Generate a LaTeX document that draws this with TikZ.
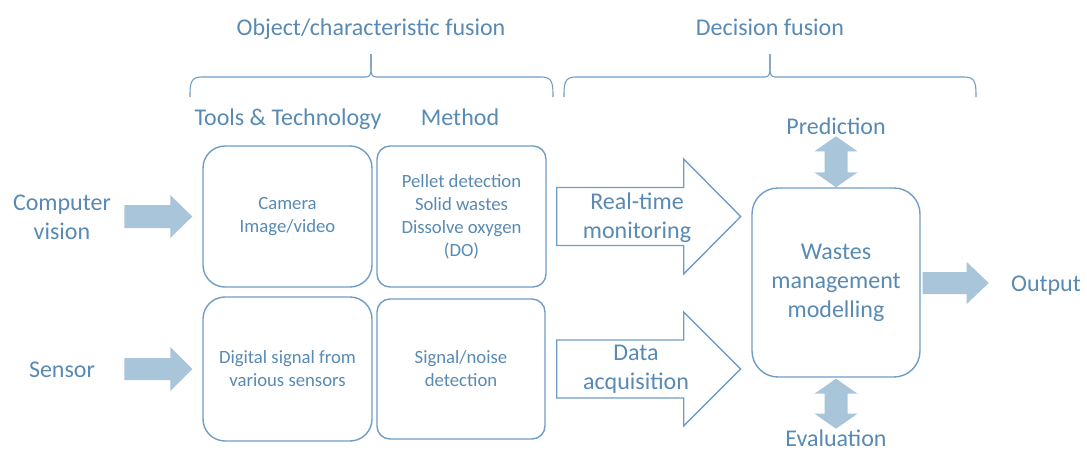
\documentclass[tikz,border=0pt]{standalone}
\usepackage{fontspec}
\setmainfont{Carlito}
\usetikzlibrary{calc}

\definecolor{ink}{RGB}{88,138,180}
\definecolor{edge}{RGB}{112,157,197}
\definecolor{fatfill}{RGB}{169,197,218}

% block arrow: style, start point, direction, length, shaft half-width, head half-width, head length
\newcommand{\blockarrow}[7]{%
  \path[#1, shift={#2}, rotate=#3]
    (0,-#5) -- ({#4-#7},-#5) -- ({#4-#7},-#6) -- (#4,0) --
    ({#4-#7},#6) -- ({#4-#7},#5) -- (0,#5) -- cycle;}
% double-headed block arrow, same arguments
\newcommand{\twinarrow}[7]{%
  \path[#1, shift={#2}, rotate=#3]
    (0,0) -- (#7,-#6) -- (#7,-#5) -- ({#4-#7},-#5) -- ({#4-#7},-#6) --
    (#4,0) -- ({#4-#7},#6) -- ({#4-#7},#5) -- (#7,#5) -- (#7,#6) -- cycle;}
% curly brace over a group: left x, tip x, right x
\newcommand{\groupbrace}[3]{%
  \draw[bracepen] (#1,97) .. controls (#1,85) and (#1,77) .. ({#1+11},77)
    -- ({#2-5},77) .. controls ({#2-1},77) and (#2,74) .. (#2,68) -- (#2,54);
  \draw[bracepen] (#2,54) -- (#2,68) .. controls (#2,74) and ({#2+1},77) .. ({#2+5},77)
    -- ({#3-11},77) .. controls (#3,77) and (#3,85) .. (#3,97);}

\begin{document}
\begin{tikzpicture}[x=1pt, y=-1pt,
  every node/.style={text=ink, inner sep=0pt},
  bigtxt/.style={font=\fontsize{24}{29}\selectfont, align=center},
  label/.style={font=\fontsize{24}{29}\selectfont, anchor=base},
  smalltxt/.style={font=\fontsize{18.7}{23}\selectfont, align=center},
  card/.style={draw=edge, line width=1.4pt, smalltxt, minimum width=169pt},
  fat/.style={fill=fatfill},
  hollow/.style={draw=edge, line width=1.4pt, fill=white, line join=miter},
  bracepen/.style={draw=edge, line width=1.1pt}]

\useasboundingbox (0,0) rectangle (1087,451);
\fill[white] (0,0) rectangle (1087,451);

% group headings
\node[label] (objfusion) at (371,35) {Object/characteristic fusion};
\node[label] (decfusion) at (770,35) {Decision fusion};
\groupbrace{190}{371}{553}
\groupbrace{564}{770}{976}

% column headings
\node[label] (tools)  at (288,125) {Tools \& Technology};
\node[label] (method) at (460,125) {Method};

% inputs
\node[bigtxt] (cv)     at (62,217.5) {Computer\\vision};
\node[label] (sensor) at (62,377) {Sensor};

% tools and methods
\node[card, minimum height=141pt, rounded corners=22pt] (tt1) at (287.5,216.5) {Camera\\Image/video};
\node[card, minimum height=141pt, rounded corners=13pt] (m1)  at (461.5,216.5) {Pellet detection\\Solid wastes\\Dissolve oxygen\\(DO)};
\node[card, minimum height=144pt, rounded corners=22pt] (tt2) at (287.5,369) {Digital signal from\\various sensors};
\node[card, minimum height=140pt, minimum width=168pt, rounded corners=13pt] (m2) at (461,369) {Signal/noise\\detection};

% model
\node[draw=edge, line width=1.4pt, bigtxt, minimum width=168pt, minimum height=189pt, rounded corners=26pt] (wm) at (836,282.5) {Wastes\\management\\modelling};

% input arrows
\blockarrow{fat}{($(tt1.west)+(-78,0)$)}{0}{68}{11.5}{21.5}{22}
\blockarrow{fat}{($(tt2.west)+(-78,0)$)}{0}{68}{11}{22}{22}

% hollow arrows into the model
\blockarrow{hollow}{($(m1.east)+(10,0)$)}{0}{184}{29}{57.5}{57}
\blockarrow{hollow}{($(m2.east)+(11,0)$)}{0}{184}{29}{57}{57}
\node[bigtxt] (rtm) at (637,217.5) {Real-time\\monitoring};
\node[bigtxt] (daq) at (636,369.5) {Data\\acquisition};

% prediction / evaluation / output
\node[label] (pred) at (836,134) {Prediction};
\node[label] (eval) at (836,446) {Evaluation};
\node[label] (out)  at (1046,291) {Output};
\twinarrow{fat}{($(wm.north)+(0,0)$)}{90}{51}{11.5}{21.5}{15}
\twinarrow{fat}{($(wm.south)+(0,1)$)}{-90}{50}{11.5}{21.5}{15}
\blockarrow{fat}{($(wm.east)+(2,0.5)$)}{0}{66}{11}{21}{22}

\end{tikzpicture}
\end{document}
